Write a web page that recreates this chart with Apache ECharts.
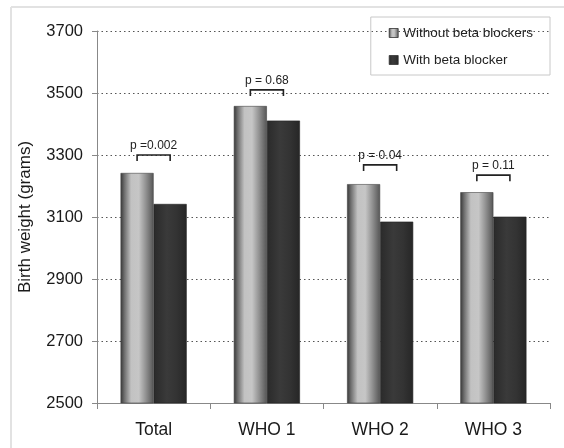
<!DOCTYPE html>
<html>
<head>
<meta charset="utf-8">
<script src="https://cdn.jsdelivr.net/npm/echarts@6/dist/echarts.min.js"></script>
<style>
html,body{margin:0;padding:0;background:#fff;}
#main{width:564px;height:448px;}
</style>
</head>
<body>
<div id="main"></div>
<script>
var categories = ['Total', 'WHO 1', 'WHO 2', 'WHO 3'];
var withoutBB = [3242, 3458, 3206, 3180];
var withBB = [3142, 3411, 3085, 3101];
var pLabels = ['p =0.002', 'p = 0.68', 'p = 0.04', 'p = 0.11'];
var bracketLevels = [3300, 3510, 3268, 3235];
var yTicks = [2500, 2700, 2900, 3100, 3300, 3500, 3700];

var chart = echarts.init(document.getElementById('main'), null, {renderer: 'canvas'});

var lightGrad = new echarts.graphic.LinearGradient(0, 0, 1, 0, [
  {offset: 0, color: '#363636'},
  {offset: 0.12, color: '#707070'},
  {offset: 0.32, color: '#c2c2c2'},
  {offset: 0.55, color: '#c6c6c6'},
  {offset: 0.75, color: '#959595'},
  {offset: 1, color: '#555555'}
]);
var darkGrad = new echarts.graphic.LinearGradient(0, 0, 1, 0, [
  {offset: 0, color: '#2a2a2a'},
  {offset: 0.4, color: '#3a3a3a'},
  {offset: 0.7, color: '#333333'},
  {offset: 1, color: '#262626'}
]);

var bracketData = categories.map(function (c, i) { return [i, bracketLevels[i], pLabels[i]]; });

var option = {
  animation: false,
  textStyle: {fontFamily: 'Liberation Sans, Arial, sans-serif'},
  graphic: [
    {type: 'line', shape: {x1: 11, y1: 7, x2: 564, y2: 7}, style: {stroke: '#e2e2e2', lineWidth: 2}},
    {type: 'line', shape: {x1: 11, y1: 7, x2: 11, y2: 448}, style: {stroke: '#e2e2e2', lineWidth: 2}}
  ],
  legend: {
    data: ['Without beta blockers', 'With beta blocker'],
    orient: 'vertical',
    right: 14,
    top: 17,
    padding: [9, 17, 8, 18],
    itemGap: 13,
    itemWidth: 9,
    itemHeight: 9,
    borderColor: '#c8c8c8',
    borderWidth: 1,
    borderRadius: 0,
    icon: 'rect',
    textStyle: {fontSize: 13.5, color: '#222', fontFamily: 'Liberation Sans, Arial, sans-serif'},
    itemStyle: {borderColor: '#333', borderWidth: 0.8}
  },
  grid: {left: 97, right: 14, top: 31, bottom: 45, containLabel: false},
  xAxis: {
    type: 'category',
    data: categories,
    axisLine: {show: true, lineStyle: {color: '#888', width: 1}},
    axisTick: {show: true, length: 6, lineStyle: {color: '#888'}, alignWithLabel: false},
    axisLabel: {fontSize: 17.5, color: '#1a1a1a', margin: 18, fontFamily: 'Liberation Sans, Arial, sans-serif'}
  },
  yAxis: {
    type: 'value',
    min: 2500,
    max: 3700,
    interval: 200,
    name: 'Birth weight (grams)',
    nameLocation: 'middle',
    nameGap: 63,
    nameTextStyle: {fontSize: 17, color: '#1a1a1a', fontFamily: 'Liberation Sans, Arial, sans-serif'},
    axisLine: {show: true, lineStyle: {color: '#888', width: 1}},
    axisTick: {show: true, length: 5, lineStyle: {color: '#888'}},
    axisLabel: {fontSize: 16.5, color: '#1a1a1a', margin: 14, fontFamily: 'Liberation Sans, Arial, sans-serif',
      formatter: function (v) { return yTicks.indexOf(v) >= 0 ? String(v) : ''; }},
    splitLine: {show: true, lineStyle: {color: '#555', width: 1, type: [1.5, 3]}}
  },
  series: [
    {
      name: 'Without beta blockers',
      type: 'bar',
      data: withoutBB,
      barGap: '0%',
      barCategoryGap: '41.6%',
      itemStyle: {color: lightGrad, borderColor: '#444', borderWidth: 0.6}
    },
    {
      name: 'With beta blocker',
      type: 'bar',
      data: withBB,
      barGap: '0%',
      barCategoryGap: '41.6%',
      itemStyle: {color: darkGrad, borderColor: '#222', borderWidth: 0.6}
    },
    {
      name: 'brackets',
      type: 'custom',
      data: bracketData,
      z: 10,
      silent: true,
      renderItem: function (params, api) {
        var p = api.coord([api.value(0), api.value(1)]);
        var band = api.size([1, 0])[0];
        var barW = band * (1 - 0.416) / 2;
        var x1 = p[0] - barW / 2, x2 = p[0] + barW / 2, y = p[1];
        var label = pLabels[params.dataIndex];
        return {
          type: 'group',
          children: [
            {type: 'polyline', shape: {points: [[x1, y + 6], [x1, y], [x2, y], [x2, y + 6]]},
              style: {stroke: '#222', lineWidth: 1.6, fill: null}},
            {type: 'text', x: p[0], y: y - 3,
              style: {text: label, fill: '#222', fontSize: 12, align: 'center', verticalAlign: 'bottom',
                fontFamily: 'Liberation Sans, Arial, sans-serif'}}
          ]
        };
      }
    }
  ]
};
chart.setOption(option);
</script>
</body>
</html>
